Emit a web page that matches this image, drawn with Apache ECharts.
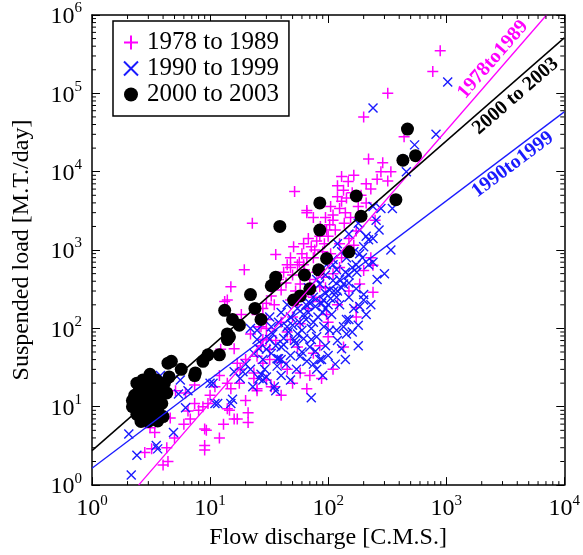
<!DOCTYPE html>
<html>
<head>
<meta charset="utf-8">
<script src="https://cdn.jsdelivr.net/npm/echarts@6/dist/echarts.min.js"></script>
<style>
  html, body { margin: 0; padding: 0; background: #fff; }
  #chart { width: 583px; height: 555px; }
</style>
</head>
<body>
<div id="chart"></div>
<script>
const legends = ['1978 to 1989', '1990 to 1999', '2000 to 2003']

// [flow discharge, suspended load]
const data7889 = [
  [890, 3.5e5], [770, 1.9e5], [320, 1.0e5], [200, 5e4], [440, 2.8e4], [220, 1.45e4], [290, 1.3e4],
  [280, 1e4], [340, 1e4], [165, 9000], [130, 8700], [120, 6600], [148, 7500], [210, 7000], [320, 7600],
  [143, 4600], [125, 3400], [110, 2800], [137, 2200], [103, 2100], [173, 1750], [125, 1200], [240, 640],
  [52, 5600], [22.8, 2200], [135, 5800], [130, 4200], [66, 3200], [75, 2600], [97, 1800], [93, 1200],
  [62, 1200], [51, 1100], [48, 800], [36, 880], [19.5, 560], [45, 650], [55, 650], [66, 800], [77, 1000],
  [150, 1400], [250, 2400], [165, 1150], [185, 370], [240, 290], [75, 250], [85, 340], [13.3, 220],
  [15, 340], [18.4, 150], [14, 230], [12.3, 54], [16, 55], [17, 36], [25, 44], [23.5, 27], [17.7, 20],
  [15, 17], [11, 18], [9.6, 11], [7.4, 11], [6.8, 7], [14.6, 9], [17, 7], [25, 17], [30, 22], [35, 18],
  [28, 36], [32, 54], [30, 72], [22, 85], [26, 105], [4.6, 7.2], [4.3, 3], [4.4, 2], [4, 1.8], [2.8, 2.6],
  [3.2, 2.9], [3.1, 5.4], [6.5, 8.8], [9, 5.2], [9, 3.2], [9.3, 5], [8.7, 10], [7.4, 19], [6.2, 15],
  [14, 20], [14, 9.4], [16, 7], [5.1, 16], [3.4, 4.7], [9, 2.8], [110, 30], [88, 23], [66, 17], [58, 27],
  [45, 30], [40, 37], [33, 18], [25, 16], [23.5, 23], [21, 8.4], [21, 6.3], [100, 78], [135, 58],
  [173, 140], [173, 185], [97, 150], [75, 48], [55, 58], [48, 72], [32, 40], [28, 72], [27, 105],
  [30, 130], [40, 120], [48, 230], [58, 370], [48, 600], [62, 650], [75, 800], [91, 450], [40, 310],
  [30, 210], [58, 115], [110, 2400], [66, 3000], [85, 1500], [105, 900], [125, 600], [70, 420],
  [25, 150], [28, 180], [33, 260], [35, 200], [38, 420], [42, 520], [44, 380], [50, 480], [53, 300],
  [57, 700], [60, 900], [63, 560], [68, 1400], [72, 1100], [80, 1300], [86, 2000], [90, 950], [95, 2600],
  [100, 1500], [105, 3600], [115, 1800], [120, 4800], [140, 3000], [155, 2600], [160, 5400], [180, 3600],
  [190, 5000], [210, 4000], [230, 6000], [260, 8000], [45, 90], [50, 140], [55, 200], [62, 260], [68, 180],
  [72, 300], [80, 520], [85, 220], [95, 330], [110, 500], [130, 800], [36, 70], [30, 100], [27, 60],
  [20, 40], [18, 30], [12, 25], [10, 14], [8, 9], [6, 6], [5, 4], [12, 4], [13, 6], [20, 12], [40, 14],
  [50, 20], [70, 25], [85, 60], [100, 120], [120, 200], [150, 300], [200, 550], [230, 800]
]

const data9099 = [
  [1030, 1.4e5], [240, 6.5e4], [820, 3e4], [540, 2.2e4], [460, 1.0e4], [350, 3400], [240, 3600],
  [280, 3400], [185, 1800], [255, 2400], [220, 1350], [240, 1400], [270, 1800], [340, 1000], [120, 1200],
  [165, 950], [195, 800], [220, 650], [118, 560], [150, 480], [240, 700], [200, 270], [165, 180],
  [135, 105], [143, 85], [118, 95], [107, 150], [92, 105], [85, 40], [35, 18], [28, 22], [38, 41],
  [40, 58], [30, 54], [25, 72], [70, 58], [62, 74], [55, 85], [45, 105], [80, 78], [103, 95], [48, 140],
  [62, 150], [75, 120], [91, 230], [103, 310], [85, 370], [110, 410], [135, 370], [173, 320], [125, 200],
  [55, 180], [40, 160], [32, 140], [33, 105], [22, 100], [23.5, 48], [75, 250], [97, 650], [110, 760],
  [143, 800], [173, 650], [3.8, 25], [5.6, 22], [5.4, 14.5], [6.2, 9.7], [4.9, 4.7], [3.5, 3.2],
  [3.6, 2.9], [2.4, 2.4], [2.05, 4.5], [2.15, 1.35], [11, 11], [15, 11], [15.5, 12.5], [16, 28],
  [10.6, 20], [6.5, 16], [25, 95], [18, 23], [11.6, 11], [10, 20], [27, 26], [30, 24], [40, 40],
  [32, 72], [37, 33], [72, 13], [36, 16], [88, 40], [37, 41], [29, 30], [26, 23], [54, 30], [58, 44],
  [78, 51], [72, 72], [53, 64], [42, 62], [430, 1.4e4], [95, 180], [65, 200], [120, 300], [150, 250],
  [28, 40], [33, 48], [36, 60], [42, 75], [46, 90], [50, 110], [52, 70], [57, 120], [60, 95], [65, 130],
  [68, 160], [72, 100], [78, 190], [82, 140], [88, 210], [90, 160], [95, 280], [100, 200], [105, 240],
  [112, 300], [118, 250], [125, 420], [130, 330], [140, 520], [150, 380], [160, 600], [175, 520],
  [185, 900], [200, 1100], [210, 1500], [48, 45], [44, 35], [60, 50], [66, 38], [75, 35], [80, 30],
  [95, 60], [100, 45], [120, 70], [130, 55], [150, 130], [160, 90], [180, 110], [60, 260], [70, 210],
  [45, 200], [38, 120], [34, 85], [26, 55], [20, 35], [19, 28], [22, 30], [23, 18], [40, 25], [48, 22],
  [90, 25], [115, 35], [140, 40], [180, 60], [210, 150], [230, 200], [260, 420], [300, 500], [180, 2200],
  [150, 1600], [130, 950], [110, 650], [95, 480], [80, 420], [68, 330], [185, 190], [143, 130], [200, 230]
]

const data0003 = [
  [2.2, 10], [2.3, 14], [2.4, 8], [2.5, 12], [2.6, 18], [2.7, 9], [2.8, 11], [2.8, 15], [2.9, 7],
  [3.0, 13], [3.0, 20], [3.1, 10], [3.1, 26], [3.2, 8], [3.3, 16], [3.4, 12], [3.5, 22], [3.6, 9],
  [3.7, 14], [3.8, 18], [3.9, 11], [4.0, 7.5], [4.1, 20], [4.3, 15], [4.5, 24], [2.6, 6.5], [3.6, 6.6],
  [2.4, 20], [3.5, 17], [2.2, 12], [2.5, 16], [3.0, 6.5], [2.7, 22],
  [4.7, 38], [5.7, 30], [7.4, 25], [8.7, 38], [12, 46], [14, 72], [9.6, 46], [4.4, 36], [7.5, 27],
  [14.6, 78], [13.3, 170], [15.5, 130], [17.7, 110], [14, 85], [22, 270], [24, 180], [27, 130],
  [35, 370], [36, 450], [39, 2000], [51, 230], [58, 260], [63, 480], [70, 320], [83, 560], [97, 780],
  [85, 1800], [85, 4000], [150, 950], [173, 4900], [190, 2700], [375, 4400], [430, 1.4e4],
  [550, 1.6e4], [470, 3.5e4], [33, 350]
]

// regression lines, end points
const fit7889 = [[2.48, 1], [7080, 1e6]]
const fit9099 = [[1, 1.64], [1e4, 5.8e4]]
const fit0003 = [[1, 2.75], [1e4, 5.1e5]]

const xTicks = [1, 10, 100, 1000, 10000]
const yTicks = [1, 10, 100, 1e3, 1e4, 1e5, 1e6]
const minorSteps = [2, 3, 4, 5, 6, 7, 8, 9]

const serif = 'Liberation Serif'
const plusPath = 'path://M0,5L10,5M5,0L5,10'
const crossPath = 'path://M0,0L10,10M10,0L0,10'

const xMinor = []
xTicks.slice(0, -1).forEach(d => minorSteps.forEach(s => xMinor.push([d * s, 1])))
const yMinor = []
yTicks.slice(0, -1).forEach(d => minorSteps.forEach(s => yMinor.push([1, d * s])))

const powLabel = v => '{b|10}{e|' + Math.round(Math.log10(v)) + '}'
const powRich = {
  b: { fontSize: 24, fontFamily: serif, color: '#000', lineHeight: 28, verticalAlign: 'bottom' },
  e: { fontSize: 15, fontFamily: serif, color: '#000', lineHeight: 15, verticalAlign: 'top' }
}

const frame = { show: true, lineStyle: { color: '#000', width: 1.5 } }
const tick = { show: true, inside: true, length: 8, lineStyle: { color: '#000', width: 1 } }

function minorTicks(isX) {
  return {
    type: 'custom',
    silent: true,
    z: 5,
    data: isX ? xMinor : yMinor,
    renderItem: (params, api) => {
      const p = api.coord([api.value(0), api.value(1)])
      const c = params.coordSys
      const style = { stroke: '#000', lineWidth: 1 }
      if (isX) {
        return { type: 'group', children: [
          { type: 'line', shape: { x1: p[0], y1: c.y + c.height, x2: p[0], y2: c.y + c.height - 4 }, style },
          { type: 'line', shape: { x1: p[0], y1: c.y, x2: p[0], y2: c.y + 4 }, style }
        ] }
      }
      return { type: 'group', children: [
        { type: 'line', shape: { x1: c.x, y1: p[1], x2: c.x + 4, y2: p[1] }, style },
        { type: 'line', shape: { x1: c.x + c.width, y1: p[1], x2: c.x + c.width - 4, y2: p[1] }, style }
      ] }
    }
  }
}

function fitLine(data, color, width, text, at, angle) {
  return {
    type: 'line',
    data: data,
    symbol: 'none',
    z: 4,
    silent: true,
    lineStyle: { color: color, width: width },
    markPoint: {
      symbol: 'circle',
      symbolSize: 0,
      silent: true,
      label: {
        show: true,
        formatter: text,
        rotate: angle,
        color: color,
        fontFamily: serif,
        fontWeight: 'bold',
        fontSize: 20
      },
      data: [{ coord: at }]
    }
  }
}

const option = {
  animation: false,
  grid: { left: 92, right: 13, top: 15, bottom: 65 },
  legend: {
    data: legends,
    orient: 'vertical',
    left: 113,
    top: 21,
    padding: [9, 10, 9, 10],
    itemWidth: 22,
    itemHeight: 14,
    itemGap: 1,
    borderColor: '#000',
    borderWidth: 1.5,
    backgroundColor: '#fff',
    selectedMode: false,
    textStyle: { fontSize: 25, fontFamily: serif, color: '#000', lineHeight: 24 }
  },
  xAxis: [
    {
      type: 'log', min: 1, max: 1e4, logBase: 10,
      name: 'Flow discharge [C.M.S.]', nameLocation: 'middle', nameGap: 40,
      nameTextStyle: { fontSize: 24, fontFamily: serif, color: '#000' },
      axisLine: frame, axisTick: tick, splitLine: { show: false },
      axisLabel: { formatter: powLabel, rich: powRich, margin: 8 }
    },
    {
      type: 'log', min: 1, max: 1e4, position: 'top',
      axisLine: frame, axisTick: tick, splitLine: { show: false }, axisLabel: { show: false }
    }
  ],
  yAxis: [
    {
      type: 'log', min: 1, max: 1e6, logBase: 10,
      name: 'Suspended load [M.T./day]', nameLocation: 'middle', nameGap: 58,
      nameTextStyle: { fontSize: 24, fontFamily: serif, color: '#000' },
      axisLine: frame, axisTick: tick, splitLine: { show: false },
      axisLabel: { formatter: powLabel, rich: powRich, margin: 10 }
    },
    {
      type: 'log', min: 1, max: 1e6, position: 'right',
      axisLine: frame, axisTick: tick, splitLine: { show: false }, axisLabel: { show: false }
    }
  ],
  series: [
    {
      name: legends[0], type: 'scatter', data: data7889, z: 2,
      symbol: plusPath, symbolSize: 11,
      itemStyle: { color: 'rgba(0,0,0,0)', borderColor: '#ff00ff', borderWidth: 1.5, opacity: 1 }
    },
    {
      name: legends[1], type: 'scatter', data: data9099, z: 2,
      symbol: crossPath, symbolSize: 9,
      itemStyle: { color: 'rgba(0,0,0,0)', borderColor: '#1a1aff', borderWidth: 1.4, opacity: 1 }
    },
    {
      name: legends[2], type: 'scatter', data: data0003, z: 3,
      symbol: 'circle', symbolSize: 13,
      itemStyle: { color: '#000', opacity: 1 }
    },
    fitLine(fit7889, '#ff00ff', 1.3, '1978to1989', [2490, 2.7e5], 49),
    fitLine(fit0003, '#000', 1.5, '2000 to 2003', [3880, 9.2e4], 41),
    fitLine(fit9099, '#1a1aff', 1.3, '1990to1999', [3660, 1.23e4], 37),
    minorTicks(true),
    minorTicks(false)
  ]
}

const chart = echarts.init(document.getElementById('chart'))
chart.setOption(option)
</script>
</body>
</html>
